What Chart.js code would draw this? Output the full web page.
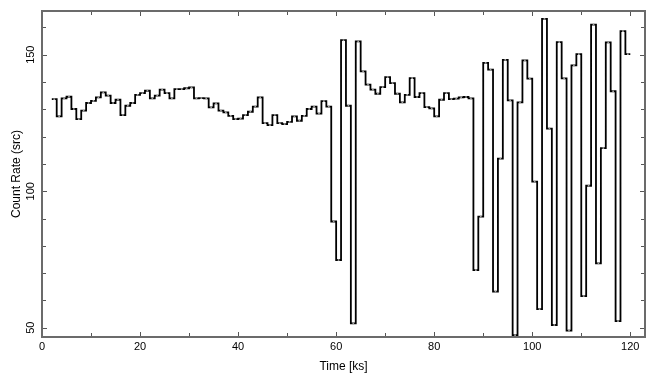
<!DOCTYPE html>
<html lang="en">
  <head>
    <meta charset="UTF-8" />
    <title>Light curve</title>
    <style>
      body { margin: 0; background: #fff; }
    </style>
  </head>
  <body>
    <canvas id="lc" width="655" height="385"></canvas>

    <script src="https://cdn.jsdelivr.net/npm/chart.js"></script>
    <script>
      // 1 ks bins, first bin starts at t = 2 ks
      const binStart = 2;
      const binWidth = 1;

      // count rate per bin
      const rateA = [
        133.7, 127.4, 134.0, 134.6, 130.1, 126.4, 129.5, 132.3, 133.1, 134.4,
        136.2, 135.0, 132.3, 133.5, 127.9, 131.3, 132.3, 135.3, 135.9, 136.8,
        134.0, 135.0, 137.2, 135.9, 134.0, 137.4, 137.4, 137.7, 138.0, 134.0,
      ];
      const rateB = [
        134.1, 134.0, 130.7, 132.2, 129.5, 128.9, 127.6, 126.4, 126.6, 127.9,
        129.1, 131.0, 134.4, 124.9, 124.2, 127.9, 124.9, 124.6, 125.4, 127.4,
        125.8, 127.6, 130.1, 131.0, 128.4, 133.0, 131.0,
      ];
      const rateC = [
        88.9, 74.8, 155.3, 131.3, 51.6, 154.9, 143.9, 139.0, 137.2, 135.7,
        138.1, 141.8, 139.6, 135.7, 132.5, 135.3, 141.4, 134.5, 135.9, 130.8,
        130.3, 127.4, 133.5, 135.9, 133.7, 133.9, 134.4, 134.5, 134.0,
      ];
      const rateD = [
        71.1, 90.7, 147.0, 144.5, 63.2, 111.9, 148.1, 133.3, 47.3, 132.5,
        147.9, 141.2, 103.5, 56.8, 163.1, 122.9, 51.0, 154.6, 141.3, 48.9,
        146.1, 150.2, 61.6, 102.0, 161.0, 73.6, 115.8, 154.5, 136.6, 52.4,
        158.6, 150.2,
      ];

      const xTicks = [0, 20, 40, 60, 80, 100, 120];
      const yTicks = [50, 100, 150];
      const xTitle = "Time [ks]";
      const yTitle = "Count Rate (src)";

      const rates = [...rateA, ...rateB, ...rateC, ...rateD];

      // step outline: one point at each bin start, plus the end of the last bin
      const steps = rates.map((r, i) => ({ x: binStart + i * binWidth, y: r }));
      steps.push({ x: binStart + rates.length * binWidth, y: rates[rates.length - 1] });

      // small grey marks at bin centres
      const centres = rates.map((r, i) => ({ x: binStart + (i + 0.5) * binWidth, y: r }));

      const TICK_FONT = "11px 'Liberation Sans', Arial, sans-serif";
      const TITLE_FONT = "12px 'Liberation Sans', Arial, sans-serif";

      const framePlugin = {
        id: "frame",
        afterDraw(chart) {
          const { ctx, chartArea: a } = chart;
          const sx = chart.scales.x;
          const sy = chart.scales.y;
          ctx.save();

          // inward ticks on all four sides
          ctx.strokeStyle = "#555";
          ctx.lineWidth = 1;
          ctx.beginPath();
          for (let v = 0; v <= 120; v += 10) {
            const px = Math.round(sx.getPixelForValue(v)) + 0.5;
            const len = v % 20 === 0 ? 5 : 4;
            ctx.moveTo(px, a.bottom);
            ctx.lineTo(px, a.bottom - len);
            ctx.moveTo(px, a.top);
            ctx.lineTo(px, a.top + len);
          }
          for (let v = 50; v <= 160; v += 10) {
            const py = Math.round(sy.getPixelForValue(v)) + 0.5;
            const len = v % 50 === 0 ? 5 : 4;
            ctx.moveTo(a.left, py);
            ctx.lineTo(a.left + len, py);
            ctx.moveTo(a.right, py);
            ctx.lineTo(a.right - len, py);
          }
          ctx.stroke();

          // frame
          ctx.strokeStyle = "#6b6b6b";
          ctx.lineWidth = 2;
          ctx.strokeRect(a.left, a.top, a.right - a.left, a.bottom - a.top);

          // tick labels
          ctx.fillStyle = "#000";
          ctx.font = TICK_FONT;
          ctx.textAlign = "center";
          ctx.textBaseline = "middle";
          xTicks.forEach((v) => {
            ctx.fillText(String(v), sx.getPixelForValue(v), a.bottom + 10);
          });
          yTicks.forEach((v) => {
            ctx.save();
            ctx.translate(a.left - 11, sy.getPixelForValue(v));
            ctx.rotate(-Math.PI / 2);
            ctx.fillText(String(v), 0, 0);
            ctx.restore();
          });

          // axis titles
          ctx.font = TITLE_FONT;
          ctx.fillText(xTitle, (a.left + a.right) / 2, 367);
          ctx.save();
          ctx.translate(17, (a.top + a.bottom) / 2);
          ctx.rotate(-Math.PI / 2);
          ctx.fillText(yTitle, 0, 0);
          ctx.restore();

          ctx.restore();
        },
      };

      const config = {
        type: "line",
        data: {
          datasets: [
            {
              label: "marks",
              type: "scatter",
              data: centres,
              showLine: false,
              pointStyle: "rect",
              pointRadius: 1.2,
              backgroundColor: "#a0a0a0",
              borderWidth: 0,
              order: 0,
            },
            {
              label: "rate",
              data: steps,
              stepped: "before",
              borderColor: "#000",
              borderWidth: 1.8,
              pointRadius: 0,
              fill: false,
              order: 1,
            },
          ],
        },
        options: {
          responsive: false,
          animation: false,
          events: [],
          layout: {
            padding: { left: 42, right: 10, top: 11, bottom: 48 },
          },
          plugins: {
            legend: { display: false },
            tooltip: { enabled: false },
          },
          scales: {
            x: { type: "linear", min: 0, max: 123, display: false },
            y: { type: "linear", min: 46.6, max: 166, display: false },
          },
        },
        plugins: [framePlugin],
      };

      const lcChart = new Chart(document.getElementById("lc"), config);
    </script>
  </body>
</html>
